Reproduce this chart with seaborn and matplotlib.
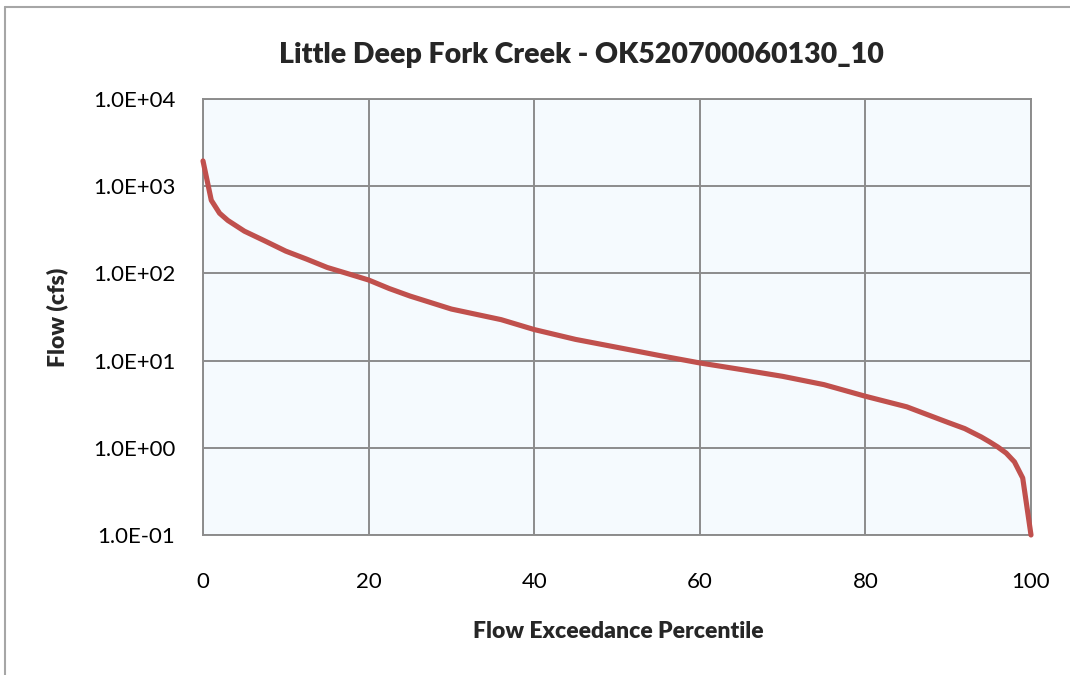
import matplotlib
matplotlib.use("Agg")
import matplotlib.pyplot as plt
import matplotlib.ticker as mticker
from matplotlib.lines import Line2D
import seaborn as sns
import pandas as pd

# Flow duration curve values
percentile = [0, 1, 2, 3, 5, 7.5, 10, 12.5, 15, 18, 20, 22.5, 25, 30, 36, 40, 45,
              50, 55, 60, 65, 70, 75, 80, 85, 90, 92, 94, 95, 96, 97, 98, 99, 100]
flow_cfs = [1950, 690, 490, 405, 305, 235, 180, 146, 117, 96, 84, 67, 55, 39, 29.5,
            22.7, 17.5, 14.2, 11.5, 9.4, 7.9, 6.6, 5.3, 3.9, 2.95, 1.95, 1.66, 1.33,
            1.17, 1.02, 0.87, 0.69, 0.45, 0.1]

x_ticks = [0, 20, 40, 60, 80, 100]
y_ticks = [0.1, 1, 10, 100, 1000, 10000]

title = "Little Deep Fork Creek - OK520700060130_10"
x_label = "Flow Exceedance Percentile"
y_label = "Flow (cfs)"

df = pd.DataFrame({"pct": percentile, "flow": flow_cfs})

sns.set_theme(style="white")
plt.rcParams["font.family"] = ["Lato", "DejaVu Sans"]

W, H = 1070, 675
fig = plt.figure(figsize=(W / 100, H / 100), dpi=100)
fig.patch.set_facecolor("white")
fig.patch.set_edgecolor("none")
fig.patch.set_linewidth(0)
ax = fig.add_axes([203 / W, 1 - 535 / H, (1031 - 203) / W, (535 - 99) / H])

# chart frame: left and top edges
frame_kw = dict(transform=fig.transFigure, color="#a6a6a6", linewidth=1.5)
fig.add_artist(Line2D([5 / W, 5 / W], [0, 1 - 7 / H], **frame_kw))
fig.add_artist(Line2D([5 / W, 1.02], [1 - 7 / H, 1 - 7 / H], **frame_kw))

ax.set_facecolor("#f5fafe")
sns.lineplot(data=df, x="pct", y="flow", ax=ax, color="#c0504d", linewidth=3.7,
             solid_joinstyle="round", clip_on=False, zorder=3)

ax.set_yscale("log")
ax.set_xlim(0, 100)
ax.set_ylim(0.1, 10000)
ax.set_xticks(x_ticks)
ax.set_yticks(y_ticks)
ax.yaxis.set_minor_locator(mticker.NullLocator())
ax.yaxis.set_major_formatter(mticker.FuncFormatter(lambda v, _: f"{v:.1E}"))
ax.xaxis.set_major_formatter(mticker.FuncFormatter(lambda v, _: f"{v:g}"))

ax.grid(True, color="#8c8c8c", linewidth=1.4)
ax.set_axisbelow(True)
for s in ax.spines.values():
    s.set_color("#8c8c8c")
    s.set_linewidth(1.4)

ax.tick_params(axis="both", length=0, labelsize=16, colors="black")
ax.tick_params(axis="y", pad=20)
ax.tick_params(axis="x", pad=27)

ax.set_xlabel("")
ax.set_ylabel("")
fig.text(618 / W, 1 - 632 / H, x_label, fontsize=16.5, fontweight="heavy",
         ha="center", va="center")
fig.text(57 / W, 1 - 317 / H, y_label, fontsize=16.5, fontweight="heavy",
         ha="center", va="center", rotation=90)
fig.text(581 / W, 1 - 55 / H, title, fontsize=20.5, fontweight="heavy",
         ha="center", va="center")

fig.savefig("out.png", dpi=100, facecolor="white", edgecolor="none")
